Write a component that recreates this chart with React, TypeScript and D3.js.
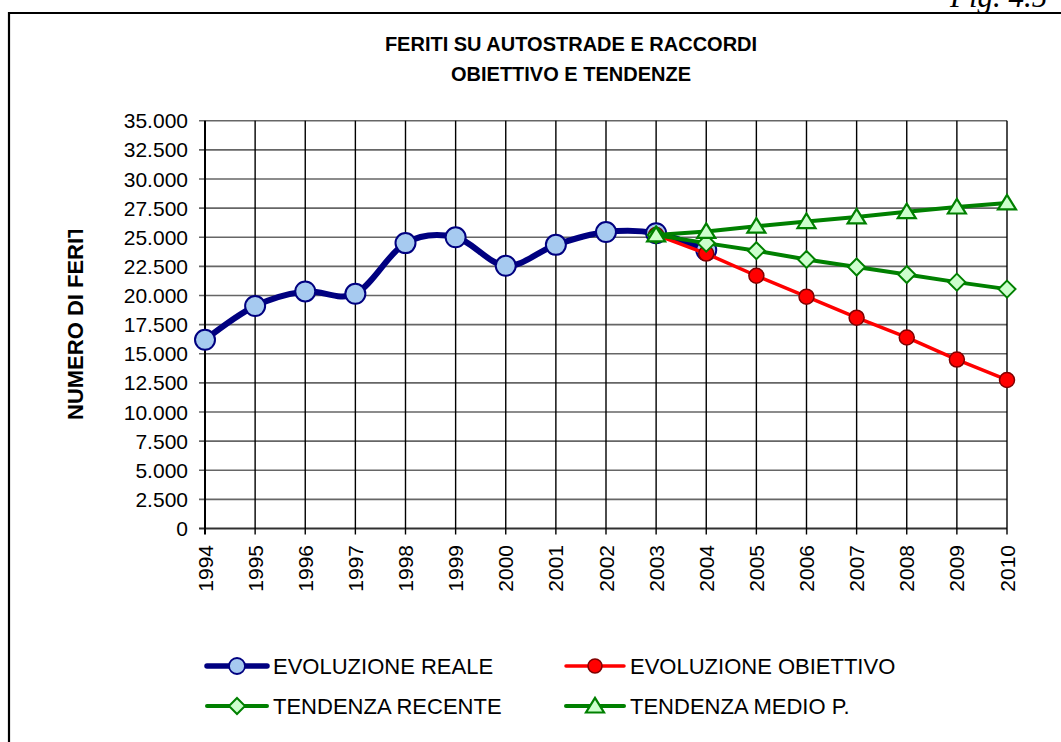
import React from "react";
import * as d3 from "d3";

const YEARS: number[] = [1994, 1995, 1996, 1997, 1998, 1999, 2000, 2001, 2002, 2003, 2004, 2005, 2006, 2007, 2008, 2009, 2010];
const REALE_YEARS: number[] = [1994, 1995, 1996, 1997, 1998, 1999, 2000, 2001, 2002, 2003, 2004];
const REALE: number[] = [16200, 19100, 20350, 20150, 24500, 25000, 22550, 24350, 25450, 25350, 23900];
const TREND_YEARS: number[] = [2003, 2004, 2005, 2006, 2007, 2008, 2009, 2010];
const OBIETTIVO: number[] = [25200, 23600, 21700, 19900, 18100, 16400, 14500, 12750];
const RECENTE: number[] = [25200, 24500, 23850, 23100, 22450, 21800, 21150, 20550];
const MEDIO: number[] = [25200, 25500, 25950, 26350, 26750, 27200, 27600, 27950];
const Y_TICKS: number[] = [0, 2500, 5000, 7500, 10000, 12500, 15000, 17500, 20000, 22500, 25000, 27500, 30000, 32500, 35000];

const TITLE_1 = "FERITI SU AUTOSTRADE E RACCORDI";
const TITLE_2 = "OBIETTIVO E TENDENZE";
const Y_TITLE = "NUMERO DI FERITI";
const FIG = "Fig. 4.5";
const LEGEND_LABELS: string[] = ["EVOLUZIONE REALE", "EVOLUZIONE OBIETTIVO", "TENDENZA RECENTE", "TENDENZA MEDIO P."];

const NAVY = "#000080";
const LIGHTBLUE = "#a6caf0";
const RED = "#ff0000";
const DARKRED = "#800000";
const GREEN = "#008000";
const LIGHTGREEN = "#ccffcc";

const FONT = "'Liberation Sans', Arial, sans-serif";

const x = d3.scaleLinear().domain([1994, 2010]).range([205, 1007]);
const y = d3.scaleLinear().domain([0, 35000]).range([528.5, 120.8]);
const fmt = d3.formatLocale({ decimal: ",", thousands: ".", grouping: [3], currency: ["", ""] }).format(",d");

function Circle({ cx, cy, r, fill, stroke, sw }: any) {
  return <circle cx={cx} cy={cy} r={r} fill={fill} stroke={stroke} strokeWidth={sw} />;
}
function Diamond({ cx, cy, s }: any) {
  const p = `M${cx},${cy - s}L${cx + s},${cy}L${cx},${cy + s}L${cx - s},${cy}Z`;
  return <path d={p} fill={LIGHTGREEN} stroke={GREEN} strokeWidth={2} />;
}
function Triangle({ cx, cy, s }: any) {
  const h = s * 0.9;
  const p = `M${cx},${cy - h}L${cx + s},${cy + h * 0.8}L${cx - s},${cy + h * 0.8}Z`;
  return <path d={p} fill={LIGHTGREEN} stroke={GREEN} strokeWidth={2.2} strokeLinejoin="miter" />;
}

export default function App() {
  const smooth = d3.line<[number, number]>().x((d) => x(d[0])).y((d) => y(d[1])).curve(d3.curveCardinal.tension(0));
  const straight = d3.line<[number, number]>().x((d) => x(d[0])).y((d) => y(d[1]));
  const reale = REALE_YEARS.map((yr, i) => [yr, REALE[i]] as [number, number]);
  const obi = TREND_YEARS.map((yr, i) => [yr, OBIETTIVO[i]] as [number, number]);
  const rec = TREND_YEARS.map((yr, i) => [yr, RECENTE[i]] as [number, number]);
  const med = TREND_YEARS.map((yr, i) => [yr, MEDIO[i]] as [number, number]);

  const legendRows = [666, 706];
  const legendCols = [{ l0: 207, l1: 267, m: 237, t: 273 }, { l0: 566, l1: 624, m: 595, t: 630 }];

  const legendMarker = (k: number, cx: number, cy: number) => {
    if (k === 0) return <Circle cx={cx} cy={cy} r={8} fill={LIGHTBLUE} stroke={NAVY} sw={1.8} />;
    if (k === 1) return <Circle cx={cx} cy={cy} r={7} fill={RED} stroke={DARKRED} sw={1.5} />;
    if (k === 2) return <Diamond cx={cx} cy={cy} s={8} />;
    return <Triangle cx={cx} cy={cy} s={9} />;
  };
  const legendColor = [NAVY, RED, GREEN, GREEN];
  const legendWidth = [5.5, 3.5, 4, 4];

  return (
    <svg width={1061} height={742} style={{ position: "absolute", left: 0, top: 0, background: "#fff" }}>
      <defs>
        <clipPath id="ytclip">
          <rect x={0} y={230} width={200} height={400} />
        </clipPath>
      </defs>
      <rect x={0} y={0} width={1061} height={742} fill="#fff" />
      {/* page frame */}
      <line x1={8} x2={1061} y1={13} y2={13} stroke="#000" strokeWidth={2.2} />
      <line x1={9} x2={9} y1={12} y2={742} stroke="#000" strokeWidth={2.2} />
      <text x={950} y={7} fontFamily="'Liberation Serif', serif" fontStyle="italic" fontSize={31} fill="#000">{FIG}</text>

      {/* title */}
      <text x={571} y={51} textAnchor="middle" fontFamily={FONT} fontWeight="bold" fontSize={20} fill="#000">{TITLE_1}</text>
      <text x={571} y={81} textAnchor="middle" fontFamily={FONT} fontWeight="bold" fontSize={20} fill="#000">{TITLE_2}</text>

      {/* horizontal gridlines */}
      {Y_TICKS.map((t) => (
        <g key={"h" + t}>
          <line x1={199} x2={x(2010)} y1={y(t)} y2={y(t)} stroke={t === 0 ? "#303030" : "#666"} strokeWidth={t === 0 ? 2 : 1.6} />
          <text x={188} y={y(t)} dy="0.36em" textAnchor="end" fontFamily={FONT} fontSize={21} fill="#000">{fmt(t)}</text>
        </g>
      ))}
      {/* vertical gridlines */}
      {YEARS.map((yr) => (
        <g key={"v" + yr}>
          <line x1={x(yr)} x2={x(yr)} y1={y(35000)} y2={y(0) + 6} stroke="#000" strokeWidth={yr === 1994 ? 2 : 1.4} />
          <text transform={`translate(${x(yr)},545) rotate(-90)`} dy="0.36em" textAnchor="end" fontFamily={FONT} fontSize={21} fill="#000">{yr}</text>
        </g>
      ))}

      {/* y axis title */}
      <g clipPath="url(#ytclip)">
        <text transform="translate(83,420) rotate(-90)" fontFamily={FONT} fontWeight="bold" fontSize={22} fill="#000">{Y_TITLE}</text>
      </g>

      {/* series */}
      <path d={smooth(reale) || ""} fill="none" stroke={NAVY} strokeWidth={6} strokeLinejoin="round" />
      {reale.map((d) => (
        <Circle key={"r" + d[0]} cx={x(d[0])} cy={y(d[1])} r={10} fill={LIGHTBLUE} stroke={NAVY} sw={2} />
      ))}
      <path d={straight(obi) || ""} fill="none" stroke={RED} strokeWidth={3.5} strokeLinejoin="round" />
      {obi.map((d) => (
        <Circle key={"o" + d[0]} cx={x(d[0])} cy={y(d[1])} r={7.5} fill={RED} stroke={DARKRED} sw={1.5} />
      ))}
      <path d={straight(rec) || ""} fill="none" stroke={GREEN} strokeWidth={4} strokeLinejoin="round" />
      {rec.map((d) => (
        <Diamond key={"d" + d[0]} cx={x(d[0])} cy={y(d[1])} s={8.5} />
      ))}
      <path d={straight(med) || ""} fill="none" stroke={GREEN} strokeWidth={4} strokeLinejoin="round" />
      {med.map((d) => (
        <Triangle key={"t" + d[0]} cx={x(d[0])} cy={y(d[1])} s={9} />
      ))}

      {/* legend */}
      {LEGEND_LABELS.map((lab, k) => {
        const cy = legendRows[Math.floor(k / 2)];
        const c = legendCols[k % 2];
        return (
          <g key={lab}>
            <line x1={c.l0} x2={c.l1} y1={cy} y2={cy} stroke={legendColor[k]} strokeWidth={legendWidth[k]} strokeLinecap="round" />
            {legendMarker(k, c.m, cy)}
            <text x={c.t} y={cy} dy="0.36em" fontFamily={FONT} fontSize={22} fill="#000">{lab}</text>
          </g>
        );
      })}
    </svg>
  );
}
